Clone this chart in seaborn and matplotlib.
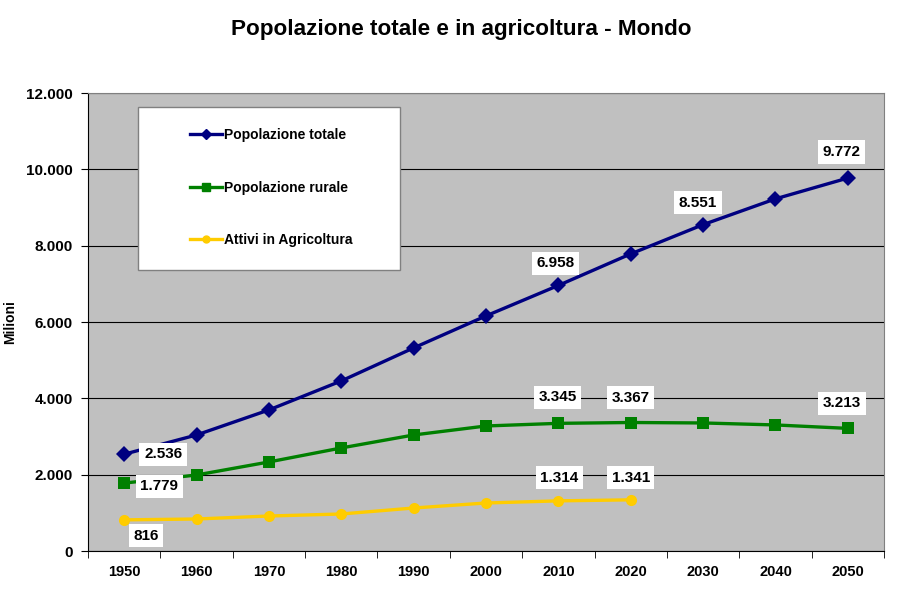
import pandas as pd
import matplotlib.pyplot as plt
import matplotlib.ticker as mticker
from matplotlib.patches import Rectangle
import seaborn as sns

# Dati (milioni)
anni = ['1950', '1960', '1970', '1980', '1990', '2000', '2010', '2020', '2030', '2040', '2050']
pop_totale = [2536, 3040, 3696, 4456, 5321, 6160, 6958, 7785, 8551, 9227, 9772]
pop_rurale = [1779, 1992, 2333, 2700, 3040, 3276, 3345, 3367, 3355, 3303, 3213]
attivi_agricoltura = [816, 839, 917, 970, 1127, 1258, 1314, 1341]

serie = ['Popolazione totale', 'Popolazione rurale', 'Attivi in Agricoltura']
colori = {'Popolazione totale': '#000080', 'Popolazione rurale': '#008000',
          'Attivi in Agricoltura': '#FFCC00'}
marker = {'Popolazione totale': 'D', 'Popolazione rurale': 's', 'Attivi in Agricoltura': 'o'}

# etichette: (serie, indice anno, offset in pixel)
etichette = [
    ('Popolazione totale', 0, (39, 0)),
    ('Popolazione totale', 6, (-3, 22)),
    ('Popolazione totale', 8, (-5, 22)),
    ('Popolazione totale', 10, (-6, 26)),
    ('Popolazione rurale', 0, (35, -3)),
    ('Popolazione rurale', 6, (-1, 26)),
    ('Popolazione rurale', 7, (0, 25)),
    ('Popolazione rurale', 10, (-6, 25)),
    ('Attivi in Agricoltura', 0, (22, -16)),
    ('Attivi in Agricoltura', 6, (1, 23)),
    ('Attivi in Agricoltura', 7, (0, 22)),
]

valori = {'Popolazione totale': pop_totale, 'Popolazione rurale': pop_rurale,
          'Attivi in Agricoltura': attivi_agricoltura}
righe = []
for s in serie:
    for i, v in enumerate(valori[s]):
        righe.append({'pos': i, 'anno': anni[i], 'valore': v, 'serie': s})
df = pd.DataFrame(righe)

plt.rcParams['font.family'] = ['Liberation Sans', 'DejaVu Sans']
plt.rcParams['font.weight'] = 'bold'

fig = plt.figure(figsize=(9.22, 6.02), dpi=100)
ax = fig.add_axes([0.0954, 0.0847, 0.8634, 0.7608])
ax.set_facecolor('#C0C0C0')

sns.lineplot(data=df, x='pos', y='valore', hue='serie', style='serie', hue_order=serie,
             style_order=serie, palette=colori, markers=marker, dashes=False,
             linewidth=2.4, markersize=8, markeredgewidth=0, ax=ax, legend=False, zorder=3)
# quadrati un po' più grandi
for line in ax.lines:
    if line.get_marker() == 's':
        line.set_markersize(9)

ax.set_xlim(-0.5, len(anni) - 0.5)
ax.set_ylim(0, 12000)
ax.set_yticks(range(0, 12001, 2000))
ax.yaxis.set_major_formatter(mticker.FuncFormatter(lambda v, p: f'{int(v):,}'.replace(',', '.')))
ax.set_xticks(range(len(anni)))
ax.set_xticklabels(anni)
ax.set_xticks([i - 0.5 for i in range(len(anni) + 1)], minor=True)
ax.tick_params(axis='x', which='major', length=0, pad=10, labelsize=10.5)
ax.tick_params(axis='x', which='minor', length=5, direction='out')
ax.tick_params(axis='y', length=5, direction='out', labelsize=11, pad=6)
for lab in ax.get_xticklabels() + ax.get_yticklabels():
    lab.set_fontweight('bold')
ax.grid(axis='y', color='black', linewidth=0.8)
ax.set_axisbelow(True)
ax.set_xlabel('')
ax.set_ylabel('Milioni', fontsize=10, fontweight='bold', labelpad=6)
for sp in ['top', 'right']:
    ax.spines[sp].set_color('#808080')

for s, i, off in etichette:
    v = valori[s][i]
    ax.annotate(f'{v:,}'.replace(',', '.'), (i, v), xytext=off, textcoords='offset pixels',
                ha='center', va='center', fontsize=11, fontweight='bold', zorder=5,
                bbox=dict(boxstyle='square,pad=0.3', facecolor='white', edgecolor='none'))

# riquadro legenda
ax.add_patch(Rectangle((0.063, 0.614), 0.329, 0.355, transform=ax.transAxes,
                       facecolor='white', edgecolor='#808080', linewidth=1, zorder=6))
handles = [plt.Line2D([], [], color=colori[s], marker=marker[s], linewidth=2.4,
                      markersize=5 if s != 'Popolazione rurale' else 6) for s in serie]
leg = ax.legend(handles, serie, loc='upper left', bbox_to_anchor=(0.12, 0.938),
                frameon=False, borderpad=0, labelspacing=2.75, handlelength=2.3,
                handletextpad=0.1, prop={'weight': 'bold', 'size': 10})
leg.set_zorder(7)

fig.suptitle('Popolazione totale e in agricoltura - Mondo', fontsize=16.2, fontweight='bold', y=0.968)
plt.savefig('out.png', dpi=100, facecolor='white')
